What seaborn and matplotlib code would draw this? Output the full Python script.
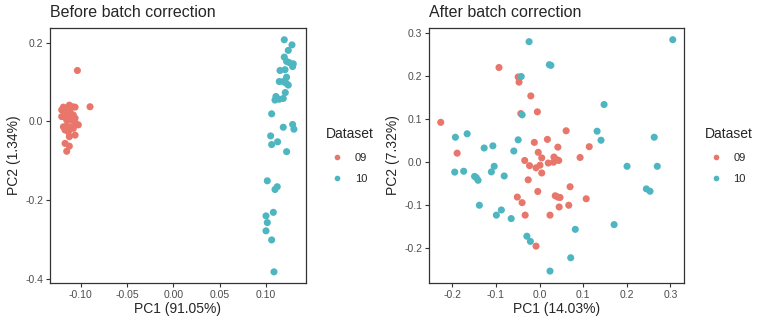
import pandas as pd
import seaborn as sns
import matplotlib.pyplot as plt

# PCA coordinates
before_09_pc1 = [-0.1034, -0.0898, -0.1121, -0.1088, -0.1059, -0.1203, -0.1149, -0.1167,
                 -0.1113, -0.1078, -0.1185, -0.1131, -0.1059, -0.1095, -0.1024, -0.1185,
                 -0.1149, -0.1113, -0.1078, -0.1167, -0.1131, -0.1059, -0.1121, -0.1167,
                 -0.1121, -0.1149, -0.1203, -0.1149, -0.1113, -0.1185, -0.1059]
before_09_pc2 = [0.129, 0.037, 0.041, 0.037, 0.036, 0.029, 0.029, 0.020,
                 0.024, 0.016, 0.012, 0.008, 0.008, 0.003, -0.009, -0.014,
                 -0.012, -0.014, -0.018, -0.022, -0.027, -0.035, -0.039, -0.056,
                 -0.063, -0.076, 0.012, 0.003, 0.012, 0.036, -0.003]

before_10_pc1 = [0.1196, 0.1279, 0.1239, 0.1196, 0.1221, 0.1250, 0.1293, 0.1286,
                 0.1150, 0.1204, 0.1221, 0.1142, 0.1185, 0.1214, 0.1239, 0.1207,
                 0.1106, 0.1096, 0.1142, 0.1185, 0.1060, 0.1185, 0.1286, 0.1300,
                 0.1049, 0.1124, 0.1060, 0.1221, 0.1013, 0.1120, 0.1096, 0.1078,
                 0.0999, 0.1013, 0.0999, 0.1060, 0.1085]
before_10_pc2 = [0.207, 0.194, 0.180, 0.163, 0.152, 0.149, 0.146, 0.139,
                 0.129, 0.131, 0.112, 0.101, 0.101, 0.097, 0.092, 0.073,
                 0.063, 0.054, 0.056, 0.058, 0.019, -0.015, -0.008, -0.020,
                 -0.037, -0.052, -0.059, -0.077, -0.151, -0.166, -0.173, -0.231,
                 -0.240, -0.257, -0.278, -0.301, -0.382]

after_09_pc1 = [-0.2266, -0.093, -0.049, -0.047, -0.020, -0.043, -0.005, -0.189,
                0.061, 0.018, -0.012, 0.042, 0.114, -0.003, 0.005, 0.033,
                0.039, 0.044, -0.034, 0.093, -0.023, -0.008, 0.001, 0.020,
                0.032, 0.005, -0.026, -0.004, 0.070, -0.051, -0.040, 0.036,
                0.042, 0.047, 0.107, 0.045, 0.067, -0.033, 0.024, -0.008]
after_09_pc2 = [0.0926, 0.220, 0.198, 0.186, 0.154, 0.113, 0.117, 0.021,
                0.073, 0.053, 0.046, 0.035, 0.036, 0.023, 0.010, 0.012,
                0.006, 0.004, 0.004, 0.011, -0.008, -0.013, -0.007, -0.002,
                0.000, -0.025, -0.041, -0.068, -0.057, -0.081, -0.094, -0.078,
                -0.081, -0.082, -0.085, -0.104, -0.100, -0.123, -0.123, -0.195]

after_10_pc1 = [-0.024, 0.0225, 0.026, -0.042, -0.040, -0.193, -0.166, -0.127,
                -0.107, -0.049, -0.059, -0.1945, -0.174, -0.149, -0.145, -0.141,
                -0.104, -0.1105, -0.081, -0.138, -0.0876, -0.099, -0.065, -0.029,
                -0.021, 0.024, 0.3055, 0.148, 0.132, 0.141, 0.263, 0.2007,
                0.270, 0.245, 0.2534, 0.171, 0.082, 0.0715]
after_10_pc2 = [0.280, 0.2265, 0.225, 0.199, 0.110, 0.058, 0.066, 0.033,
                0.038, 0.052, 0.026, -0.023, -0.021, -0.033, -0.036, -0.042,
                -0.0095, -0.0225, -0.032, -0.100, -0.111, -0.123, -0.131, -0.172,
                -0.184, -0.253, 0.2846, 0.134, 0.072, 0.051, 0.058, -0.0095,
                -0.0095, -0.062, -0.0675, -0.145, -0.156, -0.222]

datasets = ['09', '10']
palette = {'09': '#E8766B', '10': '#4DB6C1'}

before = pd.concat([
    pd.DataFrame({'PC1': before_09_pc1, 'PC2': before_09_pc2, 'Dataset': '09'}),
    pd.DataFrame({'PC1': before_10_pc1, 'PC2': before_10_pc2, 'Dataset': '10'}),
])
after = pd.concat([
    pd.DataFrame({'PC1': after_09_pc1, 'PC2': after_09_pc2, 'Dataset': '09'}),
    pd.DataFrame({'PC1': after_10_pc1, 'PC2': after_10_pc2, 'Dataset': '10'}),
])

sns.set_style('ticks')
plt.rcParams['font.family'] = ['Liberation Sans', 'DejaVu Sans']
plt.rcParams['axes.unicode_minus'] = False

fig = plt.figure(figsize=(7.72, 3.22), dpi=100)
ax1 = fig.add_axes([0.0648, 0.122, 0.3312, 0.790])
ax2 = fig.add_axes([0.5561, 0.122, 0.3303, 0.790])

panels = [
    (ax1, before, 'Before batch correction', 'PC1 (91.05%)', 'PC2 (1.34%)',
     (-0.1329, 0.1427), (-0.4096, 0.236),
     [-0.10, -0.05, 0.0, 0.05, 0.10], ['-0.10', '-0.05', '0.00', '0.05', '0.10'],
     [-0.4, -0.2, 0.0, 0.2], ['-0.4', '-0.2', '0.0', '0.2']),
    (ax2, after, 'After batch correction', 'PC1 (14.03%)', 'PC2 (7.32%)',
     (-0.2528, 0.332), (-0.280, 0.311),
     [-0.2, -0.1, 0.0, 0.1, 0.2, 0.3], ['-0.2', '-0.1', '0.0', '0.1', '0.2', '0.3'],
     [-0.2, -0.1, 0.0, 0.1, 0.2, 0.3], ['-0.2', '-0.1', '0.0', '0.1', '0.2', '0.3']),
]

for ax, df, title, xlab, ylab, xlim, ylim, xt, xtl, yt, ytl in panels:
    sns.scatterplot(data=df, x='PC1', y='PC2', hue='Dataset', hue_order=datasets,
                    palette=palette, s=26, linewidth=0, ax=ax)
    ax.set_xlim(xlim)
    ax.set_ylim(ylim)
    ax.set_xticks(xt)
    ax.set_xticklabels(xtl)
    ax.set_yticks(yt)
    ax.set_yticklabels(ytl)
    ax.tick_params(labelsize=7.5, colors='#4D4D4D', length=3, width=0.8, pad=2)
    ax.tick_params(color='#333333')
    for sp in ax.spines.values():
        sp.set_color('#333333')
        sp.set_linewidth(0.9)
    ax.set_xlabel(xlab, fontsize=10, labelpad=2)
    ax.set_ylabel(ylab, fontsize=10, labelpad=3)
    ax.set_title(title, fontsize=11.5, loc='left', pad=8)
    sns.move_legend(ax, 'center left', bbox_to_anchor=(1.04, 0.5), frameon=False,
                    title='Dataset', title_fontsize=10, fontsize=8, markerscale=0.8,
                    labelspacing=1.0, handletextpad=0.6, alignment='left')

plt.savefig('out.png', dpi=100)
